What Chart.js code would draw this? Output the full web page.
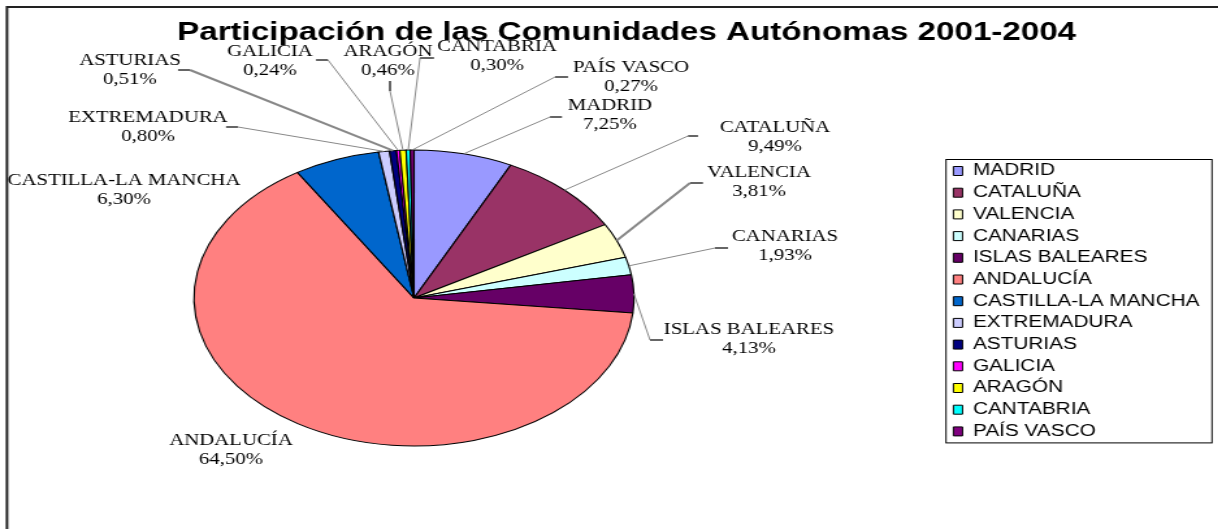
<!DOCTYPE html>
<html>
<head>
<meta charset="utf-8">
<script src="https://cdn.jsdelivr.net/npm/chart.js@4.4.0/dist/chart.umd.min.js"></script>
<style>
html, body { margin: 0; padding: 0; background: #fff; overflow: hidden; }
#wrap { position: absolute; left: 0; top: 0; width: 937px; height: 529px; transform: scaleX(1.3); transform-origin: 0 0; }
</style>
</head>
<body>
<div id="wrap"><canvas id="pie" width="937" height="529"></canvas></div>
<script>
// datos
var regiones = ["MADRID", "CATALUÑA", "VALENCIA", "CANARIAS", "ISLAS BALEARES", "ANDALUCÍA",
    "CASTILLA-LA MANCHA", "EXTREMADURA", "ASTURIAS", "GALICIA", "ARAGÓN", "CANTABRIA", "PAÍS VASCO"];
var porcentajes = [7.25, 9.49, 3.81, 1.93, 4.13, 64.50, 6.30, 0.80, 0.51, 0.24, 0.46, 0.30, 0.27];
var colores = ["#9999FF", "#993366", "#FFFFCC", "#CCFFFF", "#660066", "#FF8080",
    "#0066CC", "#CCCCFF", "#000080", "#FF00FF", "#FFFF00", "#00FFFF", "#800080"];

// the original picture is stretched sideways, so the canvas is too
var STRETCH = 1.3;
var PIE_CX = 414 / STRETCH, PIE_CY = 298, PIE_RX = 220 / STRETCH, PIE_RY = 148;

// label placement in page pixels: [centre x, name y, leader end x, leader end y, tick dx, tick dy, leader width]
var etiquetas = [
    [610, 106, 550, 117, 12, 0, 1],
    [775, 128, 688, 136, 10, 0, 1],
    [759, 173, 690, 183, 13, 0, 2],
    [785, 237, 715, 248, 13, 0, 1],
    [749, 330, 650, 340, 13, 0, 1],
    [231, 441, null],
    [124, 181, null],
    [148, 118, 238, 127, -12, 0, 1],
    [130, 61, 190, 70, -12, 0, 2],
    [270, 52, 328, 60, -12, 0, 1],
    [388, 52, 390, 91, 0, -10, 1],
    [497, 47, 420, 58, 14, 0, 1],
    [631, 68, 555, 77, 13, 0, 1]
];

function fmt(v) {
    return v.toFixed(2).replace('.', ',') + '%';
}

var elipse = {
    id: 'elipse',
    afterLayout: function(chart) {
        var lg = chart.legend;
        var w = lg.width;
        lg.left = 946 / STRETCH;
        lg.right = lg.left + w;
        lg.top = 157.3;
        lg.bottom = 470;
    },
    beforeDatasetsDraw: function(chart) {
        var arc = chart.getDatasetMeta(0).data[0];
        var ctx = chart.ctx;
        ctx.save();
        ctx.translate(PIE_CX, PIE_CY);
        ctx.scale(PIE_RX / PIE_RY, 1);
        ctx.translate(-arc.x, -arc.y);
    },
    afterDatasetsDraw: function(chart) {
        var ctx = chart.ctx;
        ctx.restore();
        var arcs = chart.getDatasetMeta(0).data;

        // leader lines
        ctx.save();
        ctx.lineCap = 'butt';
        for (var i = 0; i < arcs.length; i++) {
            var e = etiquetas[i];
            if (e[2] === null) continue;
            var a = (arcs[i].startAngle + arcs[i].endAngle) / 2;
            var px = PIE_CX + PIE_RX * Math.cos(a);
            var py = PIE_CY + PIE_RY * Math.sin(a);
            var ax = e[2] / STRETCH, ay = e[3];
            ctx.strokeStyle = '#888';
            ctx.lineWidth = e[6];
            ctx.beginPath();
            ctx.moveTo(px, py);
            ctx.lineTo(ax, ay);
            ctx.stroke();
            ctx.strokeStyle = '#666';
            ctx.lineWidth = 2;
            ctx.beginPath();
            ctx.moveTo(ax, ay);
            ctx.lineTo(ax + e[4] / STRETCH, ay + e[5]);
            ctx.stroke();
        }
        ctx.restore();

        // labels
        ctx.save();
        ctx.fillStyle = '#000';
        ctx.font = '16px "Liberation Serif", "Times New Roman", serif';
        ctx.textAlign = 'center';
        ctx.textBaseline = 'middle';
        for (var j = 0; j < arcs.length; j++) {
            var l = etiquetas[j];
            var x = l[0] / STRETCH;
            ctx.fillText(regiones[j], x, l[1]);
            ctx.fillText(fmt(porcentajes[j]), x, l[1] + 19);
        }
        ctx.restore();
    },
    afterDraw: function(chart) {
        var ctx = chart.ctx;
        var lg = chart.legend;
        var hb = lg.legendHitBoxes;
        var last = hb[hb.length - 1];
        var top = hb[0].top - 3.5;
        var bottom = last.top + last.height + 3.5;
        ctx.save();
        ctx.strokeStyle = '#000';
        ctx.lineWidth = 1;
        ctx.strokeRect(lg.left, top, 1212 / STRETCH - lg.left, bottom - top);
        // chart frame (top and left edges only show)
        ctx.strokeStyle = '#222';
        ctx.lineWidth = 2;
        ctx.beginPath();
        ctx.moveTo(7 / STRETCH, 529);
        ctx.lineTo(7 / STRETCH, 7);
        ctx.lineTo(chart.width, 7);
        ctx.stroke();
        ctx.restore();
    }
};

new Chart(document.getElementById("pie"), {
    type: 'pie',
    data: {
        labels: regiones,
        datasets: [
            {
                data: porcentajes,
                backgroundColor: colores,
                borderColor: '#000',
                borderWidth: 1,
                radius: PIE_RY,
                clip: false
            }
        ]
    },
    options: {
        responsive: false,
        animation: false,
        layout: {
            padding: { left: 27, right: 0, top: 0, bottom: 0 }
        },
        plugins: {
            title: {
                display: true,
                text: 'Participación de las Comunidades Autónomas 2001-2004',
                color: '#000',
                font: { family: '"Liberation Sans", Arial, sans-serif', size: 25.5, weight: 'bold' },
                padding: { top: 18, bottom: 5 }
            },
            legend: {
                position: 'right',
                align: 'start',
                labels: {
                    color: '#000',
                    font: { family: '"Liberation Sans", Arial, sans-serif', size: 16 },
                    boxWidth: 7,
                    boxHeight: 9,
                    padding: 5.7
                }
            },
            tooltip: { enabled: false }
        }
    },
    plugins: [elipse]
});
</script>
</body>
</html>
